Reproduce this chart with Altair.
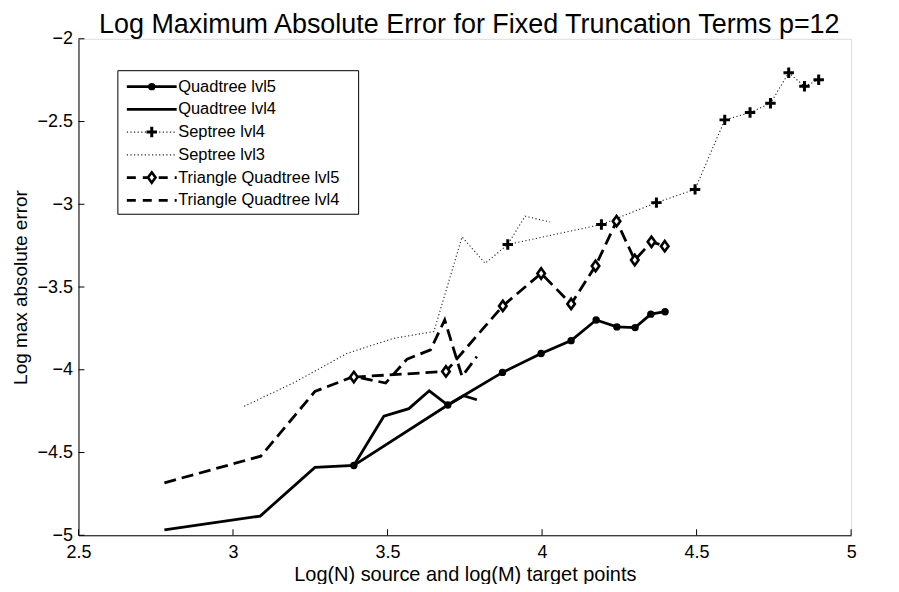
import altair as alt
import pandas as pd

# ---- data ----
q5_x = [3.391, 3.695, 3.872, 3.997, 4.094, 4.175, 4.242, 4.301, 4.352, 4.398]
q5_y = [-4.578, -4.213, -4.016, -3.902, -3.824, -3.699, -3.741, -3.745, -3.664, -3.649]
q4_x = [2.778, 3.088, 3.265, 3.391, 3.488, 3.569, 3.635, 3.695, 3.746, 3.789]
q4_y = [-4.968, -4.884, -4.590, -4.578, -4.281, -4.235, -4.127, -4.213, -4.157, -4.181]
s4_x = [3.889, 4.192, 4.370, 4.495, 4.591, 4.673, 4.739, 4.798, 4.849, 4.895]
s4_y = [-3.243, -3.122, -2.990, -2.910, -2.490, -2.446, -2.390, -2.205, -2.287, -2.247]
s3_x = [3.036, 3.20, 3.37, 3.52, 3.65, 3.741, 3.816, 3.889, 3.945, 4.026]
s3_y = [-4.221, -4.075, -3.900, -3.810, -3.769, -3.197, -3.357, -3.243, -3.072, -3.107]
t5_x = [3.391, 3.689, 3.873, 3.997, 4.094, 4.173, 4.241, 4.300, 4.354, 4.397]
t5_y = [-4.044, -4.010, -3.614, -3.418, -3.602, -3.373, -3.102, -3.337, -3.227, -3.253]
t4_x = [2.778, 3.090, 3.265, 3.391, 3.494, 3.563, 3.639, 3.685, 3.741, 3.789]
t4_y = [-4.683, -4.522, -4.131, -4.040, -4.080, -3.936, -3.880, -3.699, -4.040, -3.920]

series_names = ["Quadtree lvl5", "Quadtree lvl4", "Septree lvl4", "Septree lvl3",
                "Triangle Quadtree lvl5", "Triangle Quadtree lvl4"]
x_ticks = [2.5, 3, 3.5, 4, 4.5, 5]
y_ticks = [-5, -4.5, -4, -3.5, -3, -2.5, -2]

TITLE = "Log Maximum Absolute Error for Fixed Truncation Terms p=12"
XTITLE = "Log(N) source and log(M) target points"
YTITLE = "Log max absolute error"

# ---- layout / style ----
W, H = 775, 498
FONT = "Liberation Sans"
xs = alt.Scale(domain=[2.5, 5], nice=False, zero=False)
ys = alt.Scale(domain=[-5, -2], nice=False, zero=False)

xaxis = alt.Axis(values=x_ticks, format=".1~f", ticks=False, grid=False,
                 domainColor="black", domainWidth=1,
                 labelFont=FONT, labelFontSize=18, labelColor="black", labelPadding=8,
                 labelFlush=False, labelOverlap=False,
                 title=XTITLE, titleFont=FONT, titleFontSize=20, titleFontWeight="normal",
                 titleColor="black", titlePadding=3)
yaxis = alt.Axis(values=y_ticks, format=".1~f", ticks=False, grid=False,
                 domainColor="black", domainWidth=1,
                 labelFont=FONT, labelFontSize=18, labelColor="black", labelPadding=6,
                 labelFlush=False, labelOverlap=False,
                 title=YTITLE, titleFont=FONT, titleFontSize=19, titleFontWeight="normal",
                 titleColor="black", titlePadding=7)


def X():
    return alt.X("x:Q", scale=xs, axis=xaxis)


def Y():
    return alt.Y("y:Q", scale=ys, axis=yaxis)


def frame(x, y):
    return pd.DataFrame({"x": x, "y": y, "i": list(range(len(x)))})


def line(x, y, width, dash=None, color="black"):
    kw = dict(strokeWidth=width, color=color, clip=False, strokeCap="butt")
    if dash:
        kw["strokeDash"] = dash
    return alt.Chart(frame(x, y)).mark_line(**kw).encode(x=X(), y=Y(), order="i:Q")


PLUS = "M-1,0L1,0M0,-1L0,1"
DIAM = "M0,-1.25L0.9,0L0,1.25L-0.9,0Z"


def circles(x, y):
    return alt.Chart(frame(x, y)).mark_point(shape="circle", filled=True, color="black",
                                             size=55, opacity=1).encode(x=X(), y=Y())


def pluses(x, y):
    return alt.Chart(frame(x, y)).mark_point(shape=PLUS, filled=False, color="black",
                                             strokeWidth=3, size=110, opacity=1).encode(x=X(), y=Y())


def diamonds(x, y):
    return alt.Chart(frame(x, y)).mark_point(shape=DIAM, filled=False, stroke="black",
                                             fill="white", fillOpacity=1, strokeWidth=2.6,
                                             size=70, opacity=1).encode(x=X(), y=Y())


DASH = [12, 6]
DOT = [1.2, 2.4]
layers = [
    line(s3_x, s3_y, 1.1, DOT, "#222"),
    line(s4_x, s4_y, 1.1, DOT, "#222"),
    line(t4_x, t4_y, 2.8, DASH),
    line(t5_x, t5_y, 2.8, DASH),
    line(q4_x, q4_y, 2.8),
    line(q5_x, q5_y, 2.8),
    circles(q5_x, q5_y),
    pluses(s4_x, s4_y),
    diamonds(t5_x, t5_y),
]

# inward tick marks (MATLAB style)
layers.append(alt.Chart(pd.DataFrame({"x": x_ticks})).mark_rule(color="black", strokeWidth=1)
              .encode(x=X(), y=alt.value(H), y2=alt.value(H - 6)))
layers.append(alt.Chart(pd.DataFrame({"y": y_ticks})).mark_rule(color="black", strokeWidth=1)
              .encode(y=Y(), x=alt.value(0), x2=alt.value(6)))

# ---- title as a text mark above the plot ----
layers.append(alt.Chart(pd.DataFrame({"t": [TITLE]})).mark_text(
    align="center", baseline="alphabetic", font=FONT, fontSize=27, color="black")
    .encode(x=alt.value(392), y=alt.value(-5.5), text="t:N"))

# ---- manual MATLAB-like legend ----
LX0, LX1, LY0, LY1 = 39.5, 281, 32, 176
layers.append(alt.Chart(pd.DataFrame({"a": [0]})).mark_rect(fill="white", stroke="black",
                                                              strokeWidth=1)
              .encode(x=alt.value(LX0), x2=alt.value(LX1), y=alt.value(LY0), y2=alt.value(LY1)))
SX0, SX1, TX = 48.5, 98.5, 100
row_y = [48 + 22.8 * k for k in range(6)]
styles = [
    dict(width=2.8, dash=None, color="black", marker="circle"),
    dict(width=2.8, dash=None, color="black", marker=None),
    dict(width=1.1, dash=DOT, color="#222", marker="plus"),
    dict(width=1.1, dash=DOT, color="#222", marker=None),
    dict(width=2.8, dash=[9, 7], color="black", marker="diamond"),
    dict(width=2.8, dash=[9, 7], color="black", marker=None),
]
for name, ry, st in zip(series_names, row_y, styles):
    d = pd.DataFrame({"label": [name]})
    kw = dict(color=st["color"], strokeWidth=st["width"], strokeCap="butt")
    if st["dash"]:
        kw["strokeDash"] = st["dash"]
    layers.append(alt.Chart(d).mark_rule(**kw).encode(
        x=alt.value(SX0), x2=alt.value(SX1), y=alt.value(ry)))
    mk = st["marker"]
    cx = (SX0 + SX1) / 2
    if mk == "circle":
        layers.append(alt.Chart(d).mark_point(shape="circle", filled=True, color="black",
                                              size=55, opacity=1)
                      .encode(x=alt.value(cx), y=alt.value(ry)))
    elif mk == "plus":
        layers.append(alt.Chart(d).mark_point(shape=PLUS, filled=False, color="black",
                                              strokeWidth=3, size=110, opacity=1)
                      .encode(x=alt.value(cx), y=alt.value(ry)))
    elif mk == "diamond":
        layers.append(alt.Chart(d).mark_point(shape=DIAM, filled=False, stroke="black",
                                              fill="white", fillOpacity=1, strokeWidth=2.6,
                                              size=70, opacity=1)
                      .encode(x=alt.value(cx), y=alt.value(ry)))
    layers.append(alt.Chart(d).mark_text(align="left", baseline="middle", font=FONT,
                                         fontSize=16.5, color="black")
                  .encode(x=alt.value(TX), y=alt.value(ry), text="label:N"))

chart = alt.layer(*layers).properties(
    width=W, height=H,
    padding={"left": 70.7, "top": 30, "right": 40, "bottom": 48},
    autosize=alt.AutoSizeParams(type="none"),
).configure_view(stroke=None).configure(background="white")

chart.save("out.html", embed_options={"renderer": "svg", "actions": False})
